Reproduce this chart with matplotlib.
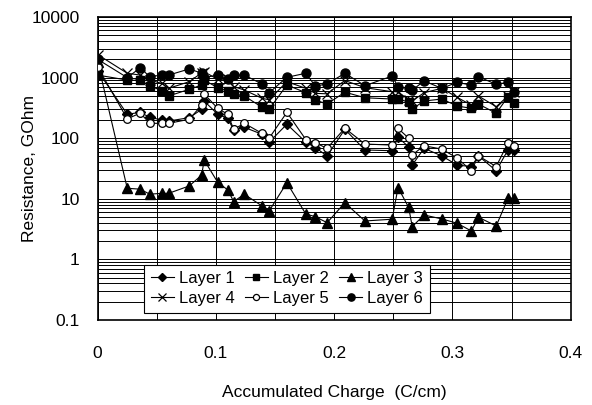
import matplotlib
matplotlib.use("Agg")
import matplotlib.pyplot as plt
from matplotlib.ticker import LogLocator, FixedLocator, FuncFormatter, NullFormatter

plt.rcParams['font.family'] = ['Liberation Sans', 'DejaVu Sans']

charge = [0, 0.025, 0.036, 0.044, 0.054, 0.060, 0.0775, 0.088, 0.090, 0.1015, 0.110, 0.115,
          0.124, 0.139, 0.145, 0.160, 0.176, 0.184, 0.194, 0.209, 0.226, 0.249, 0.254, 0.263,
          0.266, 0.276, 0.291, 0.304, 0.316, 0.322, 0.337, 0.347, 0.352]

layer1 = [1300, 248, 267, 221, 200, 192, 218, 300, 411, 248, 213, 136,
          151, 116, 86, 170, 86, 70, 51, 140, 64, 62, 103, 72,
          36, 68, 51, 36, 34, 51, 29, 64, 64]
layer2 = [1100, 910, 900, 735, 608, 497, 641, 755, 910, 682, 600, 537,
          497, 324, 300, 755, 563, 427, 366, 575, 465, 443, 450, 391,
          303, 411, 443, 340, 311, 366, 258, 484, 377]
layer3 = [1800, 14.9, 14.4, 11.9, 12.3, 12.3, 16.3, 24.7, 43.7, 18.7, 14.0, 9.0,
          11.9, 7.6, 6.3, 18.4, 5.6, 5.07, 4.03, 8.6, 4.3, 4.6, 15.3, 7.2,
          3.47, 5.4, 4.65, 3.94, 2.94, 4.96, 3.56, 10.2, 10.2]
layer4 = [2400, 1180, 1100, 910, 805, 665, 857, 1200, 1250, 938, 938, 710,
          624, 455, 430, 857, 665, 550, 540, 895, 682, 585, 585, 427,
          411, 563, 665, 473, 350, 497, 331, 497, 585]
layer5 = [1500, 208, 260, 176, 176, 176, 205, 353, 537, 311, 248, 140,
          176, 120, 100, 267, 95, 84, 68, 146, 80, 77, 145, 100,
          53, 75, 66, 47, 29, 51, 34, 84, 74]
layer6 = [2000, 1000, 1450, 1035, 1100, 1100, 1390, 1180, 1000, 1100, 950, 1100,
          1100, 783, 563, 1010, 1180, 726, 783, 1180, 735, 1060, 710, 665,
          620, 880, 665, 836, 750, 1035, 775, 836, 571]

labels = ['Layer 1', 'Layer 2', 'Layer 3', 'Layer 4', 'Layer 5', 'Layer 6']
xticks = [0, 0.1, 0.2, 0.3, 0.4]
yticks = [0.1, 1, 10, 100, 1000, 10000]

fig = plt.figure(figsize=(5.92, 4.05), dpi=100)
ax = fig.add_axes([0.165, 0.21, 0.799, 0.748])

styles = [
    dict(marker='D', ms=5, mfc='black', mec='black'),
    dict(marker='s', ms=5.5, mfc='black', mec='black'),
    dict(marker='^', ms=6.5, mfc='black', mec='black'),
    dict(marker='x', ms=6.5, mfc='black', mec='black', mew=0.9),
    dict(marker='o', ms=5.5, mfc='white', mec='black', mew=0.9),
    dict(marker='o', ms=6.5, mfc='black', mec='black'),
]
series = [layer1, layer2, layer3, layer4, layer5, layer6]
handles = []
for lab, ys, st in zip(labels, series, styles):
    h, = ax.plot(charge, ys, color='black', lw=0.8, label=lab, zorder=3, **st)
    handles.append(h)

ax.set_yscale('log')
ax.set_ylim(0.1, 10000)
ax.set_xlim(0, 0.4)

ax.yaxis.set_major_locator(FixedLocator(yticks))
ax.yaxis.set_minor_locator(LogLocator(base=10, subs=range(2, 10), numticks=20))
ax.yaxis.set_major_formatter(FuncFormatter(lambda v, p: '%g' % v))
ax.yaxis.set_minor_formatter(NullFormatter())
ax.xaxis.set_major_locator(FixedLocator([0, 0.05, 0.1, 0.15, 0.2, 0.25, 0.3, 0.35, 0.4]))
ax.xaxis.set_major_formatter(FuncFormatter(lambda v, p: ('%g' % round(v, 2)) if any(abs(v - t) < 1e-9 for t in xticks) else ''))

ax.grid(True, which='major', axis='both', color='black', lw=0.7)
ax.grid(True, which='minor', axis='y', color='black', lw=0.7)
ax.set_axisbelow(True)

ax.tick_params(axis='both', which='both', length=0, labelsize=12.5)
ax.tick_params(axis='x', pad=19)
ax.tick_params(axis='y', pad=13)
for sp in ax.spines.values():
    sp.set_linewidth(1.2)
    sp.set_color('black')

ax.set_xlabel('Accumulated Charge  (C/cm)', fontsize=12.5, labelpad=17)
ax.set_ylabel('Resistance, GOhm', fontsize=12.5, labelpad=-4)

order = [0, 3, 1, 4, 2, 5]
leg = ax.legend([handles[i] for i in order], [labels[i] for i in order], ncol=3,
                loc='lower left', bbox_to_anchor=(0.098, 0.023), fontsize=12,
                frameon=True, fancybox=False, framealpha=1, edgecolor='black',
                handlelength=1.4, handletextpad=0.3, columnspacing=0.6,
                labelspacing=0.3, borderpad=0.4, borderaxespad=0, markerscale=0.8)
leg.get_frame().set_linewidth(0.8)
leg.set_zorder(5)

fig.savefig('out.png', dpi=100)
